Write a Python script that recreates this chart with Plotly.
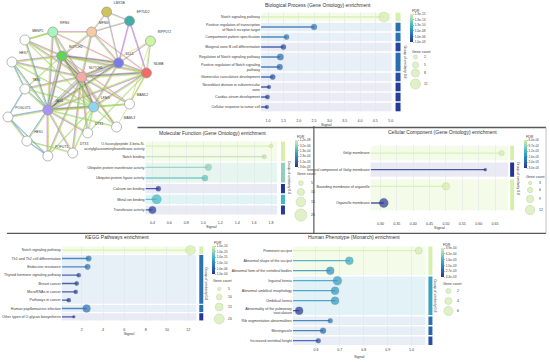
import numpy as np
import plotly.graph_objects as go
from plotly.colors import sample_colorscale, unlabel_rgb

W, H = 550, 362
FONT = "Liberation Sans, Arial, sans-serif"
TXT = "#3a3a3a"

# ---------------- Network data ----------------
NODE_NAMES = ["LMX1B", "EFTUD2", "RIPPLY2", "MFNG", "RFNG", "MESP2", "NOTCH2", "DLL1", "NUMB",
              "NOTCH1", "HES7", "TBX6", "JAG1", "LFNG", "MAML2", "MAML3", "POGLUT1", "DTX1",
              "HES1", "POFUT1", "DTX3"]
NODE_X = [107, 130, 151, 92, 53, 25, 62, 119, 147, 82, 12, 25, 48, 94, 130, 117, 8, 88, 27, 48, 73]
NODE_Y = [12, 21, 41, 32, 32, 40, 56, 63, 73, 77, 62, 89, 110, 107, 104, 127, 117, 133, 141, 156, 153]
NODE_COLORS = ["#cfc25e", "#3fb0a6", "#cdf5a5", "#f7caa6", "#a8f5bd", "#ffffff", "#5fd35a",
               "#7b7be8", "#f26b6b", "#f5a9a9", "#ffffff", "#ffffff", "#a894f2", "#8fd5f2",
               "#ffffff", "#ffffff", "#ffffff", "#ffffff", "#ffffff", "#ffffff", "#ffffff"]
EDGES = [
    (9, 6, "mkgyv"), (9, 12, "mkgyv"), (9, 13, "mkgy"), (9, 7, "mkgyv"), (9, 8, "mkgy"),
    (6, 12, "mkgyv"), (6, 13, "mkgy"), (6, 7, "mkgy"), (6, 8, "mgy"), (12, 13, "mkgy"),
    (12, 7, "mkgy"), (7, 8, "mgy"), (13, 7, "mgy"), (13, 8, "mgy"), (3, 7, "mgy"),
    (3, 8, "my"), (3, 9, "mgy"), (3, 6, "mgy"), (4, 9, "mgy"), (4, 6, "mgy"), (4, 12, "mgy"),
    (4, 3, "my"), (0, 3, "vy"), (0, 7, "vy"), (1, 7, "mv"), (1, 8, "mv"), (1, 3, "vy"),
    (2, 8, "gy"), (2, 7, "vy"), (5, 9, "mgy"), (5, 6, "mgy"), (5, 12, "bgy"), (5, 4, "gy"),
    (10, 9, "mgy"), (10, 6, "mgy"), (10, 12, "bgy"), (11, 9, "mgy"), (11, 12, "bgy"),
    (11, 6, "gy"), (16, 12, "bgy"), (16, 11, "bg"), (16, 18, "bgy"), (18, 12, "bgy"),
    (18, 19, "bg"), (19, 12, "mgy"), (19, 9, "mgy"), (20, 9, "mgy"), (20, 12, "mgy"),
    (17, 9, "mgy"), (17, 12, "mgy"), (17, 13, "gy"), (15, 13, "gy"), (15, 9, "mgy"),
    (14, 13, "gy"), (14, 9, "mgy"), (14, 8, "gy"), (8, 12, "mgy"), (8, 17, "gy"), (15, 8, "y"),
    (2, 14, "y"), (0, 1, "vy"), (4, 5, "gy"), (10, 11, "bg"), (16, 19, "bg"), (18, 20, "gy"),
    (6, 14, "my"), (6, 15, "my"), (5, 13, "gy"), (10, 13, "gy"), (11, 13, "gy"), (12, 14, "gy"),
    (12, 15, "gy"), (19, 13, "gy"), (20, 13, "gy"), (4, 7, "my"), (9, 2, "y"),
]
EDGE_COLORS = {"m": "#cf4fcf", "k": "#454545", "g": "#5cc85c", "y": "#c5cf4a",
               "b": "#4a70d8", "v": "#8f72e0"}

# ---------------- Biological Process ----------------
BP_TERMS = ["Notch signaling pathway",
            "Positive regulation of transcription<br>of Notch receptor target",
            "Compartment pattern specification",
            "Marginal zone B cell differentiation",
            "Regulation of Notch signaling pathway",
            "Positive regulation of Notch signaling<br>pathway",
            "Glomerulus vasculature development",
            "Neuroblast division in subventricular<br>zone",
            "Cardiac atrium development",
            "Cellular response to tumor cell"]
BP_SIGNAL = [4.78, 2.50, 1.60, 1.50, 1.40, 1.38, 1.15, 1.03, 0.98, 0.96]
BP_FDR = [1.3e-15, 2.0e-07, 1.5e-07, 6.0e-05, 3.0e-07, 1.0e-06, 2.0e-05, 3.0e-04, 2.0e-04, 5.0e-04]
BP_COUNT = [11, 5, 4, 4, 6, 5, 4, 2, 3, 2]
BP_GROUPS = [0, 1, 2, 3, 4, 4, 5, 6, 7, 8]
BP_GROUP_FDR = [1.3e-15, 2.0e-07, 1.5e-07, 6.0e-05, 3.0e-07, 2.0e-05, 3.0e-04, 2.0e-04, 5.0e-04]
BP_FDR_TICKS = ["1.3e-15", "1.3e-13", "1.3e-10", "1.0e-08", "1.0e-06", "1.0e-03"]
BP_COUNT_LEGEND = [2, 5, 8, 11]
BP_XTICKS = [1.0, 1.5, 2.0, 2.5, 3.0, 3.5, 4.0, 4.5, 5.0]

# ---------------- Molecular Function ----------------
MF_TERMS = ["O-fucosylpeptide 3-beta-N-<br>acetylglucosaminyltransferase activity",
            "Notch binding",
            "Ubiquitin protein transferase activity",
            "Ubiquitin-protein ligase activity",
            "Calcium ion binding",
            "Metal ion binding",
            "Transferase activity"]
MF_SIGNAL = [1.80, 1.72, 1.06, 1.02, 0.47, 0.45, 0.40]
MF_FDR = [1.2e-08, 2.0e-07, 5.0e-06, 3.0e-05, 3.6e-03, 1.3e-04, 3.0e-03]
MF_COUNT = [3, 4, 9, 8, 6, 15, 11]
MF_GROUPS = [0, 0, 1, 1, 2, 3, 4]
MF_GROUP_FDR = [1.2e-08, 5.0e-06, 3.6e-03, 1.3e-04, 3.0e-03]
MF_FDR_TICKS = ["1.2e-08", "3.2e-06", "1.3e-04", "2.3e-04", "1.1e-03", "3.6e-03"]
MF_COUNT_LEGEND = [5, 10, 15, 20]
MF_XTICKS = [0.4, 0.6, 0.8, 1.0, 1.2, 1.4, 1.6, 1.8]

# ---------------- Cellular Component ----------------
CC_TERMS = ["Golgi membrane", "Integral component of Golgi membrane",
            "Bounding membrane of organelle", "Organelle membrane"]
CC_SIGNAL = [0.67, 0.62, 0.50, 0.31]
CC_FDR = [6.0e-04, 3.0e-03, 6.0e-04, 3.0e-03]
CC_COUNT = [6, 3, 9, 12]
CC_GROUPS = [0, 1, 2, 2]
CC_GROUP_FDR = [6.0e-04, 3.0e-03, 6.0e-04]
CC_FDR_TICKS = ["6.0e-04", "8.7e-04", "1.2e-03", "1.6e-03", "2.0e-03", "3.0e-03"]
CC_COUNT_LEGEND = [3, 6, 9, 12]
CC_XTICKS = [0.30, 0.35, 0.40, 0.45, 0.50, 0.55, 0.60, 0.65]

# ---------------- KEGG ----------------
KEGG_TERMS = ["Notch signaling pathway", "Th1 and Th2 cell differentiation", "Endocrine resistance",
              "Thyroid hormone signaling pathway", "Breast cancer", "MicroRNAs in cancer",
              "Pathways in cancer", "Human papillomavirus infection",
              "Other types of O-glycan biosynthesis"]
KEGG_SIGNAL = [12.2, 2.65, 2.55, 1.72, 1.53, 1.44, 0.79, 2.46, 1.26]
KEGG_FDR = [1.0e-24, 3.0e-08, 5.0e-08, 2.0e-05, 4.0e-05, 5.0e-05, 9.0e-05, 3.0e-08, 8.0e-05]
KEGG_COUNT = [19, 10, 10, 7, 7, 7, 7, 15, 4]
KEGG_GROUPS = [0, 1, 1, 1, 1, 1, 1, 2, 3]
KEGG_GROUP_FDR = [1.0e-24, 3.0e-08, 4.0e-08, 8.0e-05]
KEGG_FDR_TICKS = ["1.0e-24", "1.0e-20", "1.0e-15", "1.0e-10", "1.0e-06", "1.0e-04"]
KEGG_COUNT_LEGEND = [5, 10, 15, 20]
KEGG_XTICKS = [2, 4, 6, 8, 10, 12]

# ---------------- Human Phenotype ----------------
HP_TERMS = ["Prominent occiput", "Abnormal shape of the occiput",
            "Abnormal form of the vertebral bodies", "Inguinal hernia",
            "Abnormal umbilical morphology", "Umbilical hernia",
            "Abnormality of the pulmonary<br>vasculature", "Rib segmentation abnormalities",
            "Meningocele", "Increased vertebral height"]
HP_SIGNAL = [1.03, 0.74, 0.66, 0.69, 0.68, 0.68, 0.53, 0.66, 0.63, 0.61]
HP_FDR = [3.9e-04, 1.2e-03, 1.5e-03, 1.3e-03, 1.4e-03, 1.4e-03, 4.4e-03, 2.2e-03, 2.6e-03, 3.3e-03]
HP_COUNT = [4, 5, 5, 6, 5, 5, 5, 2, 3, 2]
HP_GROUPS = [0, 0, 0, 1, 1, 1, 1, 2, 3, 4]
HP_GROUP_FDR = [3.9e-04, 1.2e-03, 2.2e-03, 2.6e-03, 3.3e-03]
HP_FDR_TICKS = ["3.9e-04", "6.1e-04", "1.0e-03", "1.5e-03", "2.7e-03", "4.4e-03"]
HP_COUNT_LEGEND = [2, 4, 6]
HP_XTICKS = [0.6, 0.7, 0.8, 0.9, 1.0]

SCALE = [[0.0, "rgb(37,52,148)"], [0.2, "rgb(40,98,174)"], [0.4, "rgb(43,140,192)"],
         [0.6, "rgb(65,182,196)"], [0.8, "rgb(150,212,184)"], [1.0, "rgb(215,239,172)"]]

fig = go.Figure()
layout = dict(width=W, height=H, autosize=False, margin=dict(l=0, r=0, t=0, b=0),
              paper_bgcolor="white", plot_bgcolor="rgba(0,0,0,0)", showlegend=False,
              font=dict(family=FONT, size=4, color=TXT))
layout["xaxis"] = dict(domain=[0, 1], range=[0, W], visible=False, fixedrange=True)
layout["yaxis"] = dict(domain=[0, 1], range=[H, 0], visible=False, fixedrange=True)
shapes, annotations = [], []


def px(x):
    return x / W


def py(y):
    return 1 - y / H


def ann(x, y, text, size=4, xanchor="center", angle=0, color=TXT):
    annotations.append(dict(x=px(x), y=py(y), xref="paper", yref="paper", text=text,
                            showarrow=False, xanchor=xanchor, yanchor="middle",
                            textangle=angle, font=dict(size=size, color=color)))


# ---------------- network ----------------
groups_xy = {}
for a, b, kinds in EDGES:
    x0, y0, x1, y1 = NODE_X[a], NODE_Y[a], NODE_X[b], NODE_Y[b]
    dx, dy = x1 - x0, y1 - y0
    L = np.hypot(dx, dy)
    nx, ny = -dy / L, dx / L
    m = len(kinds)
    for k, ch in enumerate(kinds):
        o = (k - (m - 1) / 2) * 0.75
        xs, ys = groups_xy.setdefault(ch, ([], []))
        xs += [x0 + nx * o, x1 + nx * o, None]
        ys += [y0 + ny * o, y1 + ny * o, None]
for ch, (xs, ys) in groups_xy.items():
    fig.add_trace(go.Scatter(x=xs, y=ys, mode="lines", xaxis="x", yaxis="y",
                             line=dict(color=EDGE_COLORS[ch], width=0.7), opacity=0.75,
                             hoverinfo="skip"))
fig.add_trace(go.Scatter(x=NODE_X, y=NODE_Y, mode="markers+text", xaxis="x", yaxis="y",
                         text=NODE_NAMES, textposition="top right",
                         textfont=dict(size=3.3, color="#333"),
                         marker=dict(size=10, color=NODE_COLORS,
                                     line=dict(color="#9a9a9a", width=0.7)),
                         cliponaxis=False, hoverinfo="skip"))

# frames
for (x0, y0, x1, y1, c, w) in [(138, 127.5, 548, 127.5, "#5a5a5a", 1.3),
                               (7, 233.3, 548, 233.3, "#5a5a5a", 1.3),
                               (315, 126, 315, 233.3, "#5a5a5a", 1.2),
                               (548, 127.5, 548, 233.3, "#b0b0b0", 0.8)]:
    shapes.append(dict(type="line", xref="paper", yref="paper", x0=px(x0), x1=px(x1),
                       y0=py(y0), y1=py(y1), line=dict(color=c, width=w)))


def fdr_pos(fdr, ticks):
    t = -np.log10(np.array([float(s) for s in ticks]))
    pos = np.arange(len(ticks))[::-1].astype(float)
    v = -np.log10(np.asarray(fdr, dtype=float))
    return np.interp(v, t[::-1], pos[::-1])


def add_panel(k, title, terms, signal, fdr, count, groups, group_fdr, fdr_ticks, count_leg,
              xticks, g):
    xr, yr = f"x{k}", f"y{k}"
    n = len(terms)
    pos = fdr_pos(fdr, fdr_ticks)
    cols = sample_colorscale(SCALE, list(pos / 5))
    d0, d1 = g["dsize"]
    c0, c1 = count_leg[0], count_leg[-1]
    size_of = lambda c: d0 + (d1 - d0) * (np.asarray(c, float) - c0) / (c1 - c0)
    layout[f"xaxis{k}"] = dict(domain=[px(g["px"][0]), px(g["px"][1])], range=g["xrange"],
                               anchor=yr, tickvals=xticks,
                               ticktext=[g["fmt"].format(t) for t in xticks],
                               showgrid=True, gridcolor="#e2e6ec", gridwidth=0.6,
                               zeroline=False, showline=False, ticks="",
                               tickfont=dict(size=3.6), ticklabelstandoff=g["tstand"],
                               title=dict(text="Signal", font=dict(size=3.8),
                                          standoff=g["ttl"]),
                               fixedrange=True)
    layout[f"yaxis{k}"] = dict(domain=[py(g["py"][1]), py(g["py"][0])], range=[n - 0.5, -0.5],
                               anchor=xr, tickvals=list(range(n)), ticktext=terms,
                               showgrid=False, zeroline=False, showline=False, ticks="",
                               tickfont=dict(size=3.6), fixedrange=True)
    gpos = fdr_pos(group_fdr, fdr_ticks)
    gcols = sample_colorscale(SCALE, list(gpos / 5))
    gap = 0.07
    for gi in range(len(group_fdr)):
        rows = [i for i in range(n) if groups[i] == gi]
        y0, y1 = min(rows) - 0.5 + gap, max(rows) + 0.5 - gap
        r, gg, b = unlabel_rgb(gcols[gi])
        alpha = 0.10 + 0.18 * (gpos[gi] / 5) ** 2
        shapes.append(dict(type="rect", xref=f"{xr} domain", yref=yr, x0=0, x1=1, y0=y0, y1=y1,
                           fillcolor=f"rgba({r:.0f},{gg:.0f},{b:.0f},{alpha:.3f})",
                           line=dict(width=0), layer="below"))
        shapes.append(dict(type="rect", xref="paper", yref=yr, x0=px(g["strip"][0]),
                           x1=px(g["strip"][1]), y0=y0, y1=y1, fillcolor=gcols[gi],
                           line=dict(width=0)))
    for i in range(n):
        fig.add_trace(go.Scatter(x=[g["xrange"][0], signal[i]], y=[i, i], mode="lines",
                                 xaxis=xr, yaxis=yr, line=dict(color=cols[i], width=1.3),
                                 opacity=0.8, hoverinfo="skip"))
    fig.add_trace(go.Scatter(x=signal, y=list(range(n)), mode="markers", xaxis=xr, yaxis=yr,
                             marker=dict(size=size_of(count), color=pos, coloraxis=f"coloraxis{k}",
                                         line=dict(width=0.4, color="rgba(90,120,60,0.45)")),
                             cliponaxis=False, hoverinfo="skip"))
    cbx, cby, cbl = g["cb"]
    layout[f"coloraxis{k}"] = dict(cmin=0, cmax=5, colorscale=SCALE,
                                   colorbar=dict(x=px(cbx), y=py(cby), xanchor="left",
                                                 yanchor="top", len=cbl, lenmode="pixels",
                                                 thickness=3, thicknessmode="pixels",
                                                 tickvals=[5, 4, 3, 2, 1, 0], ticktext=fdr_ticks,
                                                 tickfont=dict(size=g.get("cbfont", 3.2),
                                                               color="#444"),
                                                 ticks="outside", ticklen=1.5,
                                                 tickcolor="#777", tickwidth=0.5,
                                                 outlinewidth=0, xpad=0, ypad=0))
    ann(cbx, cby - 3.5, "FDR", size=3.6, xanchor="left")
    ann(g["title"][0], g["title"][1], title, size=5, color="#333")
    ymid = (g["py"][0] + g["py"][1]) / 2
    ann(g["rot"], ymid, "Group of similarity 0.8", size=3.4, angle=90)
    ann(g["gc_title"][0], g["gc_title"][1], "Gene count", size=3.6, xanchor="left")
    ds = size_of(count_leg)
    fig.add_trace(go.Scatter(x=[g["gc_x"]] * len(count_leg), y=g["gc_y"], mode="markers",
                             xaxis="x", yaxis="y",
                             marker=dict(size=ds, color="#d4ecb0",
                                         line=dict(color="#a9c98a", width=0.6)),
                             cliponaxis=False, hoverinfo="skip"))
    for c, yy in zip(count_leg, g["gc_y"]):
        ann(g["gc_x"] + d1 / 2 + 2, yy, str(c), size=3.4, xanchor="left")


add_panel(2, "Biological Process (Gene Ontology) enrichment", BP_TERMS, BP_SIGNAL, BP_FDR,
          BP_COUNT, BP_GROUPS, BP_GROUP_FDR, BP_FDR_TICKS, BP_COUNT_LEGEND, BP_XTICKS,
          dict(px=(262, 393), py=(12, 112), xrange=[0.77, 5.03], fmt="{:.1f}", tstand=5, ttl=1,
               strip=(397, 402), rot=406, cb=(411, 14, 28), gc_title=(411, 52), gc_x=417,
               gc_y=[57, 65, 73, 84], dsize=(4, 10), title=(319, 5)))
add_panel(3, "Molecular Function (Gene Ontology) enrichment", MF_TERMS, MF_SIGNAL, MF_FDR,
          MF_COUNT, MF_GROUPS, MF_GROUP_FDR, MF_FDR_TICKS, MF_COUNT_LEGEND, MF_XTICKS,
          dict(px=(146, 278), py=(140.7, 215.3), xrange=[0.318, 1.87], fmt="{:.1f}", tstand=4,
               ttl=1, strip=(282, 286), rot=290, cb=(296, 140, 27), gc_title=(296, 174),
               gc_x=302, gc_y=[183, 192, 202, 215], dsize=(4.7, 12), title=(213, 133)))
add_panel(4, "Cellular Component (Gene Ontology) enrichment", CC_TERMS, CC_SIGNAL, CC_FDR,
          CC_COUNT, CC_GROUPS, CC_GROUP_FDR, CC_FDR_TICKS, CC_COUNT_LEGEND, CC_XTICKS,
          dict(px=(372, 510), py=(144.7, 211.3), xrange=[0.27, 0.69], fmt="{:.2f}", tstand=9,
               ttl=1, strip=(512, 516), rot=520, cb=(526, 140, 28), cbfont=3.0,
               gc_title=(526, 177), gc_x=532, gc_y=[183, 190, 199, 210], dsize=(3.3, 9.3),
               title=(444, 132)))
add_panel(5, "KEGG Pathways enrichment", KEGG_TERMS, KEGG_SIGNAL, KEGG_FDR, KEGG_COUNT,
          KEGG_GROUPS, KEGG_GROUP_FDR, KEGG_FDR_TICKS, KEGG_COUNT_LEGEND, KEGG_XTICKS,
          dict(px=(62, 197), py=(246, 321), xrange=[0.13, 12.75], fmt="{:d}", tstand=5, ttl=1,
               strip=(200, 204), rot=207, cb=(213, 246, 28), gc_title=(212, 281), gc_x=220,
               gc_y=[289, 297, 307, 319], dsize=(3.5, 10), title=(117, 237)))
add_panel(6, "Human Phenotype (Monarch) enrichment", HP_TERMS, HP_SIGNAL, HP_FDR, HP_COUNT,
          HP_GROUPS, HP_GROUP_FDR, HP_FDR_TICKS, HP_COUNT_LEGEND, HP_XTICKS,
          dict(px=(294, 427), py=(245.7, 345.7), xrange=[0.504, 1.058], fmt="{:.1f}", tstand=1,
               ttl=4, strip=(430, 434), rot=437, cb=(443, 248, 29), gc_title=(443, 284),
               gc_x=450, gc_y=[291, 301, 311], dsize=(5, 9), title=(355, 237)))

layout["shapes"] = shapes
layout["annotations"] = annotations
fig.update_layout(**layout)
# remove the default page margin so the 550x362 figure fills the window exactly
fig.write_html("out.html", config={"displayModeBar": False, "staticPlot": True},
               post_script="document.body.style.margin='0px';"
                           "document.body.style.overflow='hidden';")
